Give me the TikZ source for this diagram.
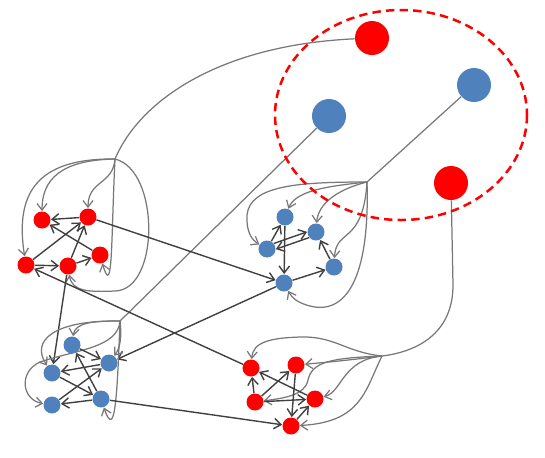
\documentclass[tikz,border=0pt]{standalone}
\usetikzlibrary{arrows.meta,backgrounds}
\definecolor{nodeblue}{RGB}{79,129,189}
\definecolor{nodered}{RGB}{255,0,0}
\definecolor{curvegray}{RGB}{120,120,120}
\definecolor{edgegray}{RGB}{64,64,64}
\begin{document}
\begin{tikzpicture}[x=0.5pt,y=-0.5pt,
  rnode/.style={circle,fill=nodered,inner sep=0pt,minimum size=8.5pt},
  bnode/.style={circle,fill=nodeblue,inner sep=0pt,minimum size=8.5pt},
  bigr/.style={rnode,minimum size=17pt},
  bigb/.style={bnode,minimum size=17pt},
  plain/.style={draw=curvegray,line width=0.62pt},
  link/.style={plain,-{Straight Barb[length=3.3pt,width=5pt]}},
  dlink/.style={draw=edgegray,line width=0.7pt,-{Straight Barb[length=3.5pt,width=5.2pt]}},
  hull/.style={draw=nodered,line width=1.25pt,dash pattern=on 4.2pt off 2.6pt}
]
\useasboundingbox (0,0) rectangle (545,457);
% big nodes
\node[bigr] (RT) at (372,38) {};
\node[bigb] (BL) at (329,116) {};
\node[bigb] (BR) at (474,85) {};
\node[bigr] (RB) at (451,183) {};
% cluster 1
\node[rnode] (A) at (42,220) {};
\node[rnode] (B) at (88,217) {};
\node[rnode] (C) at (100,255) {};
\node[rnode] (D) at (26,265) {};
\node[rnode] (E) at (68,266) {};
\coordinate (h1) at (115,159);
% cluster 2
\node[bnode] (F) at (285,217) {};
\node[bnode] (G) at (316,232) {};
\node[bnode] (H) at (267,249) {};
\node[bnode] (I) at (334,267) {};
\node[bnode] (J) at (284,283) {};
\coordinate (h2) at (367,182);
% cluster 3
\node[bnode] (K1) at (72,345) {};
\node[bnode] (K2) at (109,363) {};
\node[bnode] (K3) at (52,373) {};
\node[bnode] (K4) at (101,399) {};
\node[bnode] (K5) at (52,405) {};
\coordinate (h3) at (120,321);
% cluster 4
\node[rnode] (L1) at (251,368) {};
\node[rnode] (L2) at (296,365) {};
\node[rnode] (L3) at (255,402) {};
\node[rnode] (L4) at (315,399) {};
\node[rnode] (L5) at (291,426) {};
\coordinate (h4) at (382,356);

\begin{scope}[on background layer]
% hub connections to big nodes
\draw[plain] (h1) .. controls (140,100) and (220,45) .. (RT);
\draw[plain] (h2) -- (BR);
\draw[plain] (h3) -- (BL);
\draw[plain] (RB) -- (453,285) .. controls (453,335) and (415,352) .. (h4);
% cluster 1 curves
\draw[link] (h1) .. controls (60,160) and (42,180) .. (A);
\draw[link] (h1) .. controls (35,158) and (15,195) .. (D);
\draw[link] (h1) .. controls (113,185) and (88,180) .. (B);
\draw[link] (h1) .. controls (111,240) and (113,300) .. (C);
\draw[link] (h1) .. controls (160,170) and (160,290) .. (115,291) .. controls (90,292) and (72,292) .. (E);
% cluster 1 edges
\draw[dlink] (B) -- (A);
\draw[dlink] (D) -- (B);
\draw[dlink] (D) -- (E);
\draw[dlink] (E) -- (B);
\draw[dlink] (E) -- (C);
\draw[dlink] (C) -- (A);
\draw[dlink] (B) -- (J);
\draw[dlink] (E) -- (K3);
% cluster 2 curves
\draw[link] (h2) .. controls (300,182) and (250,185) .. (247,215) .. controls (246,232) and (252,240) .. (H);
\draw[link] (h2) .. controls (330,186) and (296,190) .. (F);
\draw[link] (h2) .. controls (335,190) and (318,205) .. (G);
\draw[link] (h2) .. controls (363,245) and (336,228) .. (I);
\draw[link] (h2) .. controls (370,280) and (345,315) .. (310,306) .. controls (298,303) and (292,298) .. (J);
% cluster 2 edges
\draw[dlink] (H) -- (F);
\draw[dlink] (H.39) -- (G.179);
\draw[dlink] (G.219) -- (H.359);
\draw[dlink] (F) -- (J);
\draw[dlink] (J) -- (I);
\draw[dlink] (I) -- (G);
\draw[dlink] (J) -- (K2);
% cluster 3 curves
\draw[link] (h3) .. controls (95,321) and (75,322) .. (K1);
\draw[link] (h3) .. controls (55,320) and (30,340) .. (K3);
\draw[link] (h3) .. controls (122,338) and (120,348) .. (K2);
\draw[link] (h3) .. controls (117,400) and (115,440) .. (K4);
\draw[link] (h3) .. controls (118,348) and (75,350) .. (40,362) .. controls (18,372) and (22,400) .. (K5);
% cluster 3 edges
\draw[dlink] (K1) -- (K2);
\draw[dlink] (K2) -- (K3);
\draw[dlink] (K3) -- (K4);
\draw[dlink] (K5) -- (K2);
\draw[dlink] (K4) -- (K5);
\draw[dlink] (K4) -- (K1);
\draw[dlink] (K4) -- (L5);
% cluster 4 curves
\draw[link] (h4) .. controls (345,352) and (335,336) .. (300,337) .. controls (270,338) and (253,342) .. (L1);
\draw[link] (h4) .. controls (350,360) and (330,362) .. (L2);
\draw[link] (h4) .. controls (330,358) and (312,362) .. (308,380) .. controls (305,395) and (285,398) .. (L3);
\draw[link] (h4) .. controls (342,360) and (342,392) .. (L4);
\draw[link] (h4) .. controls (365,390) and (362,422) .. (L5);
% cluster 4 edges
\draw[dlink] (L3) -- (L1);
\draw[dlink] (L3) -- (L2);
\draw[dlink] (L4) -- (L1);
\draw[dlink] (L3) -- (L4);
\draw[dlink] (L2) -- (L5);
\draw[dlink] (L5) -- (L4);
\draw[dlink] (L1) -- (D);
\end{scope}
% dashed hull
\draw[hull] (401,115) ellipse [x radius=126, y radius=105];
\end{tikzpicture}
\end{document}
